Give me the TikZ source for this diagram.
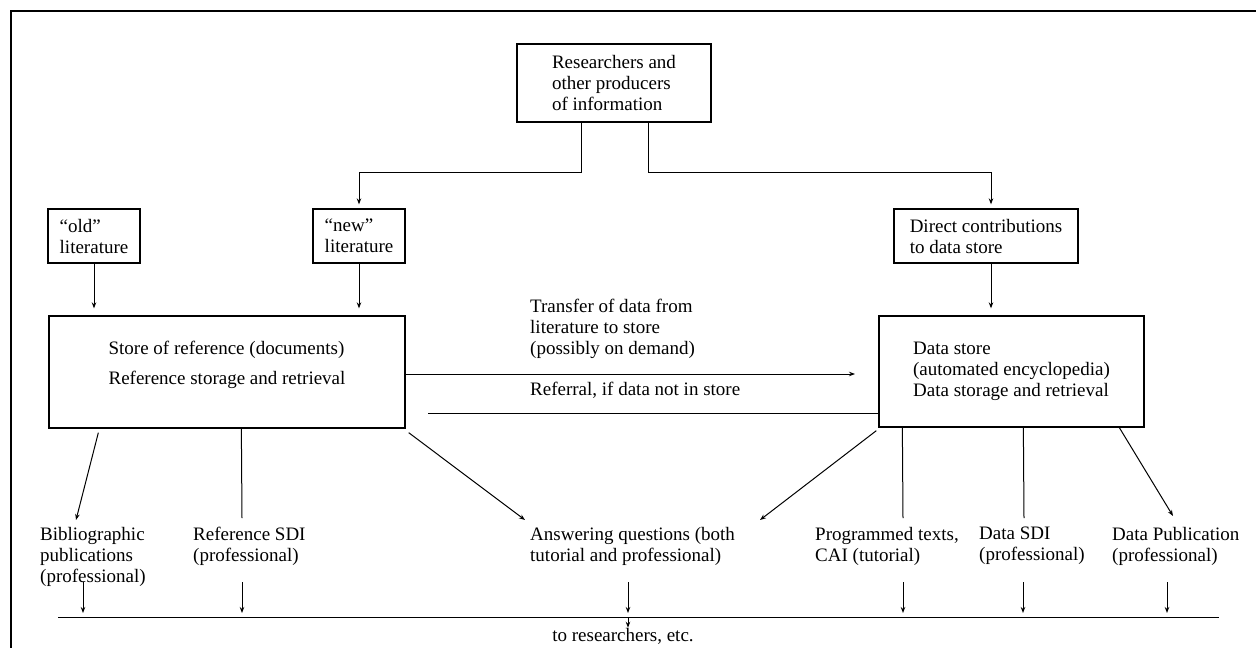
\documentclass[tikz,border=0pt]{standalone}
\usepackage{fontspec}
\setmainfont{Liberation Serif}
\usetikzlibrary{arrows.meta}

\begin{document}
\begin{tikzpicture}[x = 1pt, y = -1pt, >={Stealth[length=6pt, width=4.5pt]},
    box/.style = {draw, line width = 1.3pt, align = left, inner sep = 0pt, font = \fontsize{19}{21}\selectfont},
    txt/.style = {align = left, inner sep = 0pt, font = \fontsize{19}{21}\selectfont},
    lbl/.style = {txt, anchor = north west},
    link/.style = {line width = 1pt}]
    \useasboundingbox (0,0) rectangle (1256,648);

    % Marco superior e izquierdo.
    \draw[line width = 1.5pt] (11,648) -- (11,11) -- (1256,11);

    % Cajas de la parte superior:
    \node[box, minimum width = 194pt, minimum height = 78pt] (res) at (614,83) {Researchers and\\other producers\\of information};
    \node[box, minimum width = 92pt, minimum height = 54pt] (oldlit) at (94,236) {``old''\\literature};
    \node[box, minimum width = 92pt, minimum height = 54pt] (newlit) at (359,236) {``new''\\literature};
    \node[box, minimum width = 184pt, minimum height = 54pt] (direct) at (986,236) {Direct contributions\\to data store};

    % Los dos almacenes.
    \node[box, minimum width = 356pt, minimum height = 112pt] (refstore) at (227,372) {};
    \node[txt] at ([yshift = 7pt]refstore.center) {Store of reference (documents)\\[9pt]Reference storage and retrieval};
    \node[box, minimum width = 265pt, minimum height = 111pt] (datastore) at (1011.5,371.5) {Data store\\(automated encyclopedia)\\Data storage and retrieval};

    % Bifurcacion desde los investigadores.
    \coordinate (forkL) at (581,172);
    \coordinate (forkR) at (648,172);
    \draw[link, ->, shorten >= 4pt] (res.south -| forkL) -- (forkL) -| (newlit.north);
    \draw[link, ->, shorten >= 4pt] (res.south -| forkR) -- (forkR) -| ([xshift = 5pt]direct.north);

    \draw[link, ->, shorten >= 7pt] (oldlit.south) -- (oldlit.south |- refstore.north);
    \draw[link, ->, shorten >= 7pt] (newlit.south) -- (newlit.south |- refstore.north);
    \draw[link, ->, shorten >= 7pt] ([xshift = 5pt]direct.south) -- ([xshift = 5pt]direct.south |- datastore.north);

    % Transferencia entre almacenes:
    \node[txt, anchor = west] (transfer) at (530,329) {Transfer of data from\\literature to store\\(possibly on demand)};
    \node[txt, anchor = west] (referral) at (530,390) {Referral, if data not in store};
    \coordinate (trend) at (855,374);
    \coordinate (refend) at (428,413);
    \draw[link, ->] (refstore.east |- trend) -- (trend);
    \draw[link] (datastore.west |- refend) -- (refend);

    % Servicios de salida.
    \node[lbl] (biblio) at (40,527) {Bibliographic\\publications\\(professional)};
    \node[lbl] (refsdi) at (193,527) {Reference SDI\\(professional)};
    \node[lbl] (answer) at (530,527) {Answering questions (both\\tutorial and professional)};
    \node[lbl] (progr) at (815,527) {Programmed texts,\\CAI (tutorial)};
    \node[lbl] (datasdi) at (979,527) {Data SDI\\(professional)};
    \node[lbl] (datapub) at (1112,527) {Data Publication\\(professional)};

    \draw[link, ->] ([xshift = 50pt, yshift = -4pt]refstore.south west) -- ([xshift = 36pt, yshift = 7pt]biblio.north west);
    \draw[link] ([xshift = 193pt]refstore.south west) -- ([xshift = 49pt, yshift = 9pt]refsdi.north west);
    \draw[link, ->] ([xshift = 3pt, yshift = -4pt]refstore.south east) -- ([xshift = -5pt, yshift = 7pt]answer.north west);
    \draw[link, ->] ([xshift = -2pt, yshift = -3pt]datastore.south west) -- ([xshift = 230pt, yshift = 7pt]answer.north west);
    \draw[link] ([xshift = 24pt]datastore.south west) -- ([xshift = 88pt, yshift = 9pt]progr.north west);
    \draw[link] ([xshift = 145pt]datastore.south west) -- ([xshift = 45pt, yshift = 9pt]datasdi.north west);
    \draw[link, ->] ([xshift = 241pt]datastore.south west) -- ([xshift = 61pt, yshift = 11pt]datapub.north west);

    % Linea colectora hacia los investigadores.
    \coordinate (busL) at (58,617);
    \coordinate (busR) at (1219,617);
    \draw[link] (busL) -- (busR);
    \foreach \n/\x in {biblio/83, refsdi/242, answer/628, progr/903, datasdi/1023, datapub/1167} {
        \coordinate (\n-out) at (\x,582);
        \draw[link, ->, shorten >= 4pt] (\n-out) -- (\n-out |- busL);
    }
    \node[txt] (toresearch) at (623,636) {to researchers, etc.};
    \draw[link, ->] (answer-out |- busL) -- (answer-out |- toresearch.north);
\end{tikzpicture}
\end{document}
